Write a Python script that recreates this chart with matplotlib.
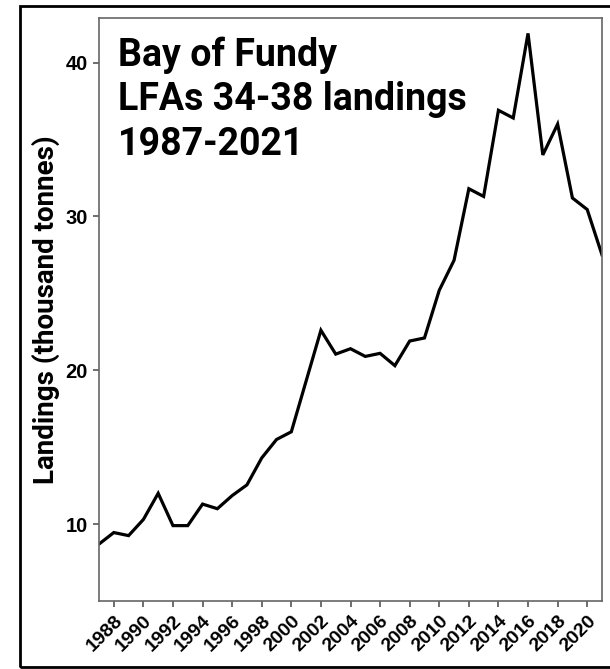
import matplotlib.pyplot as plt
from matplotlib.patches import Rectangle

# Bay of Fundy LFAs 34-38 landings (thousand tonnes)
years = list(range(1987, 2022))
landings = [8.7, 9.45, 9.25, 10.3, 12.0, 9.9, 9.9, 11.3, 11.0, 11.85,
            12.55, 14.3, 15.5, 16.0, 19.3, 22.6, 21.05, 21.4, 20.9, 21.1,
            20.3, 21.9, 22.1, 25.2, 27.15, 31.8, 31.3, 36.9, 36.4, 41.9,
            34.0, 36.0, 31.2, 30.45, 27.5]
xticks = list(range(1988, 2021, 2))
yticks = [10, 20, 30, 40]

fig = plt.figure(figsize=(6.1, 6.69), dpi=100)
ax = fig.add_axes([99/610, 1 - 601/669, (602 - 99)/610, (601 - 18)/669])

ax.plot(years, landings, color='black', linewidth=2.3, solid_joinstyle='miter')

ax.set_xlim(1987, 2021)
ax.set_ylim(5.0, 42.9)
ax.set_xticks(xticks)
ax.set_yticks(yticks)
ax.set_xticklabels([str(y) for y in xticks], rotation=45, ha='right',
                   rotation_mode='anchor', fontweight='bold', fontsize=14,
                   family='Liberation Sans')
ax.set_yticklabels([str(v) for v in yticks], fontweight='bold', fontsize=14.5,
                   family='Liberation Sans')
ax.tick_params(axis='both', length=4.5, width=1.2, color='#555555', pad=3.5)

for s in ax.spines.values():
    s.set_color('#666666')
    s.set_linewidth(1.2)

ax.set_ylabel('Landings (thousand tonnes)', fontsize=20, fontweight='bold',
              family='Roboto', labelpad=4)

ax.text(0.038, 0.968, 'Bay of Fundy\nLFAs 34-38 landings\n1987-2021',
        transform=ax.transAxes, ha='left', va='top', fontsize=27,
        fontweight='bold', family='Roboto', linespacing=1.25)

# outer frame around the plot
fig.patches.append(Rectangle((20/610, 1 - 667/669), 1.0, (667 - 6)/669,
                             transform=fig.transFigure, fill=False,
                             edgecolor='black', linewidth=2))

fig.savefig('out.png', dpi=100)
